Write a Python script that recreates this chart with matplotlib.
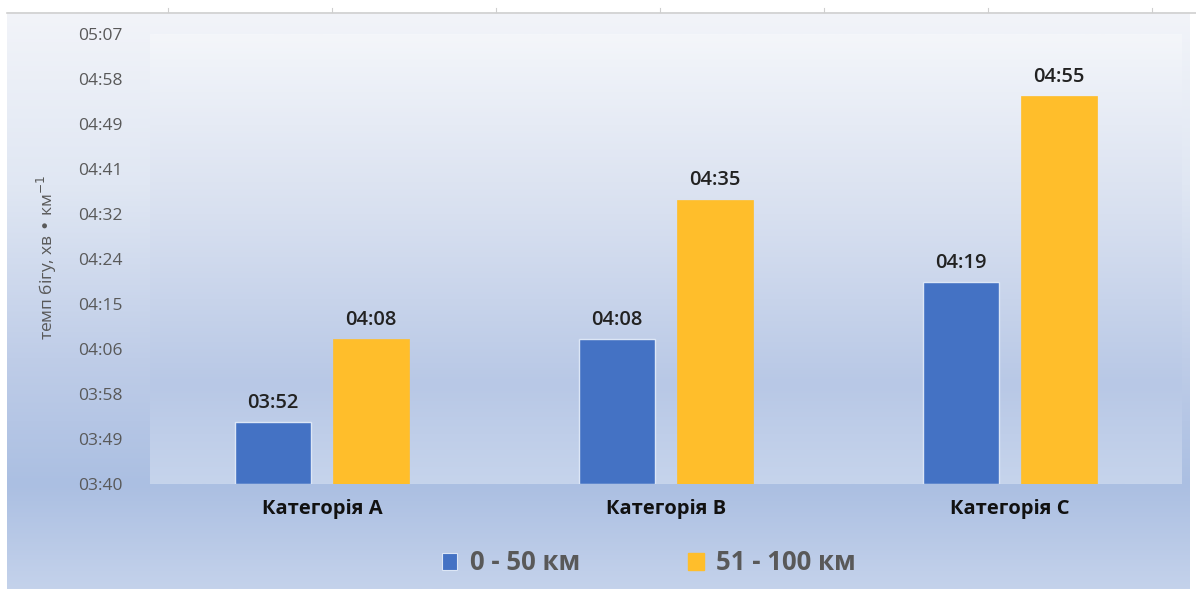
import numpy as np
import matplotlib
matplotlib.use("Agg")
import matplotlib.pyplot as plt
from matplotlib.colors import LinearSegmentedColormap
from matplotlib.patches import Patch
from matplotlib.lines import Line2D

plt.rcParams["font.family"] = ["Open Sans", "DejaVu Sans"]

# ---- data ----
categories = ["Категорія А", "Категорія В", "Категорія С"]
series_names = ["0 - 50 км", "51 - 100 км"]
pace_0_50 = ["03:52", "04:08", "04:19"]
pace_51_100 = ["04:08", "04:35", "04:55"]
y_tick_labels = ["03:40", "03:49", "03:58", "04:06", "04:15", "04:24",
                 "04:32", "04:41", "04:49", "04:58", "05:07"]
y_label = "темп бігу, хв • км$^{-1}$"


def to_seconds(s):
    m, sec = s.split(":")
    return int(m) * 60 + int(sec)


vals_a = [to_seconds(v) for v in pace_0_50]
vals_b = [to_seconds(v) for v in pace_51_100]
ymin = to_seconds(y_tick_labels[0])
ymax = to_seconds(y_tick_labels[-1])

# ---- styling ----
BLUE = "#4472C4"
ORANGE = "#FFBE2B"
TICK_GREY = "#595959"

W, H = 1196, 589
fig = plt.figure(figsize=(W / 100, H / 100), dpi=100, facecolor="white")

# chart-area background gradient
outer_cmap = LinearSegmentedColormap.from_list(
    "outer", [(0.0, "#f2f4f9"), (0.3, "#e0e7f3"), (0.6, "#bfcde8"),
              (0.82, "#abbfe2"), (1.0, "#c4d2eb")])
bg = fig.add_axes([7 / W, 0, (1190 - 7) / W, (H - 12) / H], zorder=-10)
bg.imshow(np.linspace(0, 1, 256).reshape(-1, 1), cmap=outer_cmap,
          aspect="auto", extent=[0, 1, 0, 1], origin="upper")
bg.axis("off")

# thin border line and small ticks above the chart area
fig.add_artist(Line2D([7 / W, 1], [1 - 12.5 / H] * 2, color="#d0d0d0", lw=1.2))
for px in [168, 332, 496, 660, 824, 988, 1152]:
    fig.add_artist(Line2D([px / W] * 2, [1 - 12 / H, 1 - 8 / H],
                          color="#cfcfcf", lw=0.8))

# plot area
ax = fig.add_axes([150 / W, 1 - 484 / H, (1182 - 150) / W, (484 - 34) / H])
plot_cmap = LinearSegmentedColormap.from_list(
    "plot", [(0.0, "#f4f6fa"), (0.4, "#d8e0f0"), (0.78, "#b8c8e6"),
             (1.0, "#c6d4ec")])
ax.imshow(np.linspace(0, 1, 256).reshape(-1, 1), cmap=plot_cmap,
          aspect="auto", extent=[0, len(categories), ymin, ymax],
          origin="upper", zorder=0)

x = np.arange(len(categories)) + 0.5
bw = 0.22
off = 0.1424
ax.bar(x - off, [v - ymin for v in vals_a], bw, bottom=ymin, color=BLUE,
       edgecolor="#dce6f6", linewidth=1.0, zorder=2)
ax.bar(x + off, [v - ymin for v in vals_b], bw, bottom=ymin, color=ORANGE,
       edgecolor=ORANGE, linewidth=0.5, zorder=2)

for xi, v, lab in zip(x - off, vals_a, pace_0_50):
    ax.text(xi, v + 1.8, lab, ha="center", va="bottom", fontsize=14.5,
            fontweight="semibold", color="#222222")
for xi, v, lab in zip(x + off, vals_b, pace_51_100):
    ax.text(xi, v + 1.8, lab, ha="center", va="bottom", fontsize=14.5,
            fontweight="semibold", color="#222222")

ax.set_xlim(0, len(categories))
ax.set_ylim(ymin, ymax)
ax.set_yticks(np.linspace(ymin, ymax, len(y_tick_labels)))
ax.set_yticklabels(y_tick_labels, fontsize=12.5, color=TICK_GREY)
ax.set_xticks(x)
ax.set_xticklabels(categories, fontsize=14.5, fontweight="bold",
                   color="#111111")
ax.tick_params(axis="y", length=0, pad=20)
ax.tick_params(axis="x", length=0, pad=11)
for s in ax.spines.values():
    s.set_visible(False)

fig.text(47 / W, 1 - 258 / H, y_label, rotation=90, ha="center",
         va="center", fontsize=12.5, color=TICK_GREY)

handles = [Patch(facecolor=BLUE, edgecolor="#dce6f6", lw=0.8),
           Patch(facecolor=ORANGE, edgecolor=ORANGE)]
fig.legend(handles, series_names, loc="center",
           bbox_to_anchor=(649 / W, 1 - 563 / H), ncol=2, frameon=False,
           prop={"size": 18.5, "weight": "bold"}, labelcolor=TICK_GREY,
           handlelength=0.6, handleheight=0.6, handletextpad=0.5,
           columnspacing=4.2)

fig.savefig("out.png", dpi=100)
